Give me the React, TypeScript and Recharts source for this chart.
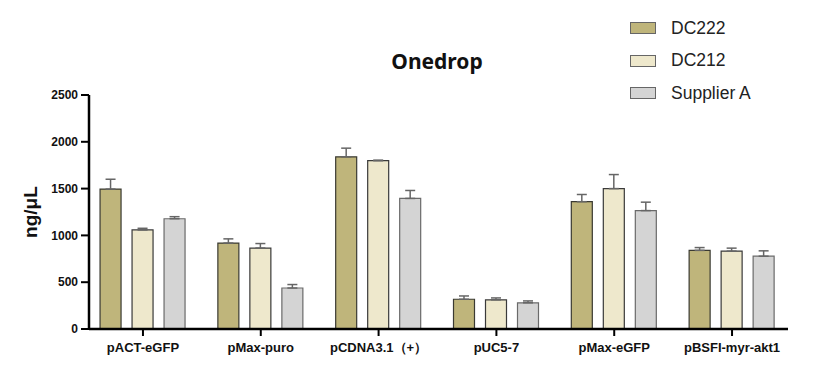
import { BarChart, Bar, XAxis, YAxis, ErrorBar } from 'recharts'

const categories = ['pACT-eGFP', 'pMax-puro', 'pCDNA3.1（+）', 'pUC5-7', 'pMax-eGFP', 'pBSFI-myr-akt1']
const dc222 = [1495, 918, 1840, 318, 1360, 840]
const dc222Err = [105, 45, 92, 35, 77, 30]
const dc212 = [1058, 865, 1798, 312, 1500, 832]
const dc212Err = [18, 48, 6, 20, 150, 32]
const supplierA = [1178, 438, 1395, 280, 1265, 778]
const supplierAErr = [22, 37, 85, 20, 90, 57]
const yTicks = [0, 500, 1000, 1500, 2000, 2500]

const series = [
  { key: 'dc222', name: 'DC222', fill: '#bfb57b', stroke: '#3a3a32' },
  { key: 'dc212', name: 'DC212', fill: '#eee8cc', stroke: '#3a3a3a' },
  { key: 'supplierA', name: 'Supplier A', fill: '#d4d4d4', stroke: '#6a6a6a' },
]

const data = categories.map((name, i) => ({
  x: i,
  name,
  dc222: dc222[i],
  dc222Err: [0, dc222Err[i]],
  dc212: dc212[i],
  dc212Err: [0, dc212Err[i]],
  supplierA: supplierA[i],
  supplierAErr: [0, supplierAErr[i]],
}))

const font = '"Liberation Sans", Arial, sans-serif'

function YLabel({ viewBox }: any) {
  const cy = viewBox.y + viewBox.height / 2
  return (
    <text
      x={30}
      y={cy}
      transform={`rotate(-90, 30, ${cy})`}
      textAnchor="middle"
      dominantBaseline="central"
      fontFamily={font}
      fontWeight={700}
      fontSize={19}
      fill="#111"
    >
      ng/μL
    </text>
  )
}

export default function App() {
  return (
    <div style={{ position: 'absolute', left: 0, top: 0, width: 831, height: 373, background: '#fff' }}>
      <div
        style={{
          position: 'absolute',
          left: 0,
          width: 874,
          top: 47,
          textAlign: 'center',
          fontFamily: '"Noto Sans", sans-serif',
          fontWeight: 700,
          fontSize: 21,
          color: '#111',
        }}
      >
        Onedrop
      </div>
      <div style={{ position: 'absolute', left: 630, top: 12, fontFamily: font, fontSize: 17.5, color: '#222' }}>
        {series.map((s) => (
          <div key={s.key} style={{ display: 'flex', alignItems: 'center', height: 32.5 }}>
            <div
              style={{
                width: 24,
                height: 10,
                background: s.fill,
                border: '1px solid #666',
                marginRight: 15,
              }}
            />
            <span>{s.name}</span>
          </div>
        ))}
      </div>
      <BarChart
        width={831}
        height={373}
        data={data}
        margin={{ top: 95, right: 43, left: 0, bottom: 14 }}
        barGap={11}
      >
        <XAxis
          dataKey="x"
          type="number"
          domain={[-0.458, 5.475]}
          allowDataOverflow
          ticks={[0, 1, 2, 3, 4, 5]}
          interval={0}
          tickFormatter={(v: number) => categories[v]}
          height={30}
          axisLine={{ stroke: '#000', strokeWidth: 2.5 }}
          tickLine={{ stroke: '#000', strokeWidth: 2 }}
          tickSize={7}
          tickMargin={7}
          tick={{ fontFamily: font, fontWeight: 700, fontSize: 13, fill: '#111' }}
        />
        <YAxis
          domain={[0, 2500]}
          ticks={yTicks}
          width={89}
          allowDataOverflow
          axisLine={{ stroke: '#000', strokeWidth: 2.5 }}
          tickLine={{ stroke: '#000', strokeWidth: 2 }}
          tickSize={8}
          tickMargin={3}
          tick={{ fontFamily: font, fontWeight: 700, fontSize: 12, fill: '#111' }}
          label={<YLabel />}
        />
        {series.map((s) => (
          <Bar
            key={s.key}
            dataKey={s.key}
            name={s.name}
            fill={s.fill}
            stroke={s.stroke}
            strokeWidth={1.2}
            barSize={21}
            isAnimationActive={false}
          >
            <ErrorBar dataKey={`${s.key}Err`} direction="y" width={5} stroke="#666" strokeWidth={1.5} />
          </Bar>
        ))}
      </BarChart>
    </div>
  )
}
